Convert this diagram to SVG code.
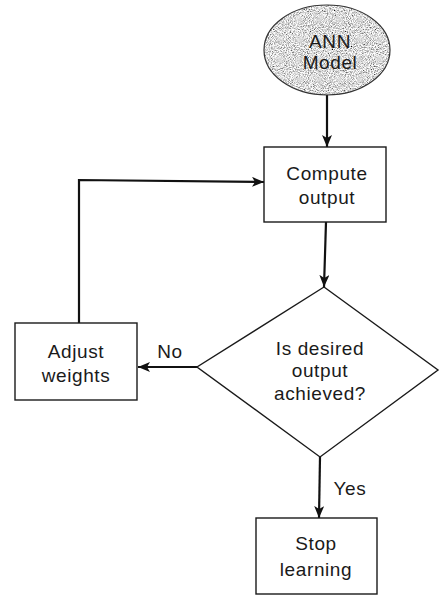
<svg xmlns="http://www.w3.org/2000/svg" width="440" height="598" viewBox="0 0 440 598">
  <style>
    .box { fill: #ffffff; stroke: #1a1a1a; stroke-width: 1.4; }
    .label { font-family: "Liberation Sans", Arial, sans-serif; font-size: 19px; fill: #1a1a1a; text-anchor: middle; letter-spacing: 0.6px; }
    .edge { fill: none; stroke: #111111; stroke-width: 2.2; }
  </style>
  <defs>
    <marker id="head" viewBox="0 0 12 10" refX="12" refY="5" markerWidth="12" markerHeight="10" markerUnits="userSpaceOnUse" orient="auto">
      <path d="M0,0 L12,5 L0,10 L3,5 Z" fill="#111111"/>
    </marker>
    <!-- stippled grey fill for the start terminal -->
    <filter id="grain" x="0" y="0" width="100%" height="100%">
      <feTurbulence type="fractalNoise" baseFrequency="0.95" numOctaves="2" seed="7" result="noise"/>
      <feColorMatrix in="noise" type="matrix" values="1.9 0 0 0 -0.25  1.9 0 0 0 -0.25  1.9 0 0 0 -0.25  0 0 0 0 1" result="gray"/>
      <feComposite in="gray" in2="SourceAlpha" operator="in"/>
    </filter>
  </defs>

  <g id="connectors">
    <line class="edge" x1="327" y1="95" x2="327" y2="147" marker-end="url(#head)"/>
    <line class="edge" x1="326" y1="222" x2="324" y2="287" marker-end="url(#head)"/>
    <line class="edge" x1="197" y1="367" x2="138" y2="367" marker-end="url(#head)"/>
    <polyline class="edge" points="79,323 79,180 264,182" marker-end="url(#head)"/>
    <line class="edge" x1="320" y1="457" x2="319" y2="518" marker-end="url(#head)"/>
    <text class="label" x="170" y="358">No</text>
    <text class="label" x="350" y="495">Yes</text>
  </g>

  <g id="ann-model">
    <ellipse cx="327" cy="50" rx="63" ry="45" fill="#bcbcbc" filter="url(#grain)"/>
    <ellipse cx="327" cy="50" rx="63" ry="45" fill="none" stroke="#333333" stroke-width="1.2"/>
    <text class="label" x="330" y="48">ANN</text>
    <text class="label" x="330" y="69">Model</text>
  </g>

  <g id="compute-output">
    <rect class="box" x="264" y="147" width="122" height="75"/>
    <text class="label" x="327" y="180">Compute</text>
    <text class="label" x="327" y="204">output</text>
  </g>

  <g id="decision">
    <polygon class="box" points="324,287 438,370 320,457 197,367" stroke-width="1.2"/>
    <text class="label" x="320" y="355">Is desired</text>
    <text class="label" x="320" y="377">output</text>
    <text class="label" x="320" y="400">achieved?</text>
  </g>

  <g id="adjust-weights">
    <rect class="box" x="15" y="323" width="122" height="77"/>
    <text class="label" x="76" y="358">Adjust</text>
    <text class="label" x="76" y="382">weights</text>
  </g>

  <g id="stop-learning">
    <rect class="box" x="256" y="518" width="121" height="76"/>
    <text class="label" x="316" y="550">Stop</text>
    <text class="label" x="316" y="576">learning</text>
  </g>
</svg>
